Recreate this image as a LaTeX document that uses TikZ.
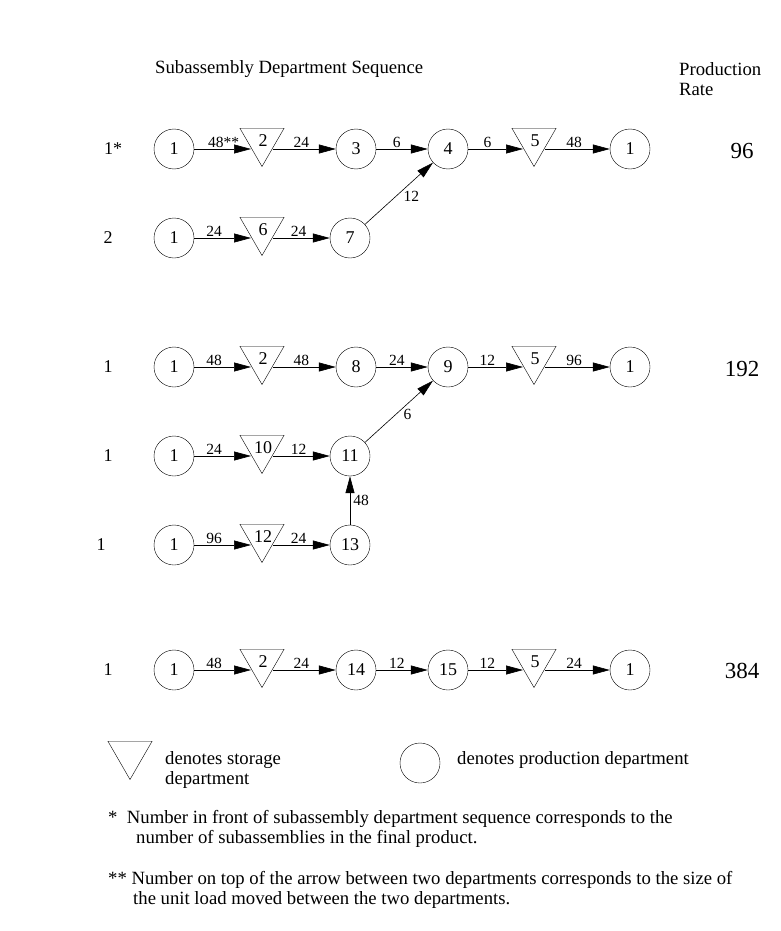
\documentclass[tikz,border=0pt]{standalone}
\usepackage{fontspec}
\setmainfont{Liberation Serif}
\usetikzlibrary{shapes.geometric,arrows.meta,calc}
\begin{document}
\begin{tikzpicture}[x=1pt,y=-1pt,
 dept/.style={circle,draw,minimum size=40pt,inner sep=0pt,font=\fontsize{18}{20}\selectfont},
 store/.style={regular polygon,regular polygon sides=3,shape border rotate=180,draw,minimum size=51pt,inner sep=0pt},
 stxt/.style={font=\fontsize{18}{20}\selectfont},
 arr/.style={-{Triangle[length=17pt,width=9pt]},line width=0.6pt},
 lab/.style={font=\fontsize{15.5}{17}\selectfont,inner sep=1pt},
 txt/.style={font=\fontsize{18.7}{20}\selectfont,anchor=west,align=left,inner sep=0pt},
 rate/.style={font=\fontsize{23}{25}\selectfont}]
\useasboundingbox (0,0) rectangle (781,931);
% header
\node[txt] (h1) at (155,69) {Subassembly Department Sequence};
\node[txt] (h2) at (679,79) {Production\\Rate};
% macros
\newcommand{\tri}[4]{\node[store] (#1) at (#2,#3-8) {}; \node[stxt] (#1t) at (#2+1,#3-8) {#4};}
\newcommand{\inarr}[4]{\draw[arr] (#1) -- ($(#2)+(-11,8)$) node[lab,pos=0.35,above] {#4};}
\newcommand{\outarr}[4]{\draw[arr] ($(#1)+(11,8)$) -- (#2) node[lab,pos=0.45,above] {#4};}
% row 1
\node[dept] (a1) at (174,149) {1};
\tri{a2}{262}{149}{2}
\node[dept] (a3) at (356,149) {3};
\node[dept] (a4) at (448,149) {4};
\tri{a5}{534}{149}{5}
\node[dept] (a6) at (630,149) {1};
\draw[arr] (a1) -- ($(a2)+(-11,8)$) node[lab,pos=0.52,above] {48**};
\outarr{a2}{a3}{}{24}
\draw[arr] (a3) -- (a4) node[lab,pos=0.4,above] {6};
\inarr{a4}{a5}{}{6}
\outarr{a5}{a6}{}{48}
% row 2
\node[dept] (b1) at (174,238) {1};
\tri{b2}{262}{238}{6}
\node[dept] (b3) at (350,238) {7};
\inarr{b1}{b2}{}{24}
\outarr{b2}{b3}{}{24}
\draw[arr] (b3) -- (a4) node[lab,pos=0.55,below right] {12};
% row 3
\node[dept] (c1) at (174,367) {1};
\tri{c2}{262}{367}{2}
\node[dept] (c3) at (356,367) {8};
\node[dept] (c4) at (448,367) {9};
\tri{c5}{534}{367}{5}
\node[dept] (c6) at (630,367) {1};
\inarr{c1}{c2}{}{48}
\outarr{c2}{c3}{}{48}
\draw[arr] (c3) -- (c4) node[lab,pos=0.4,above] {24};
\inarr{c4}{c5}{}{12}
\outarr{c5}{c6}{}{96}
% row 4
\node[dept] (d1) at (174,456) {1};
\tri{d2}{262}{456}{10}
\node[dept] (d3) at (350,456) {11};
\inarr{d1}{d2}{}{24}
\outarr{d2}{d3}{}{12}
\draw[arr] (d3) -- (c4) node[lab,pos=0.55,below right] {6};
% row 5
\node[dept] (e1) at (174,545) {1};
\tri{e2}{262}{545}{12}
\node[dept] (e3) at (350,545) {13};
\inarr{e1}{e2}{}{96}
\outarr{e2}{e3}{}{24}
\draw[arr] (e3) -- (d3) node[lab,midway,right=2pt] {48};
% row 6
\node[dept] (f1) at (174,670) {1};
\tri{f2}{262}{670}{2}
\node[dept] (f3) at (356,670) {14};
\node[dept] (f4) at (448,670) {15};
\tri{f5}{534}{670}{5}
\node[dept] (f6) at (630,670) {1};
\inarr{f1}{f2}{}{48}
\outarr{f2}{f3}{}{24}
\draw[arr] (f3) -- (f4) node[lab,pos=0.4,above] {12};
\inarr{f4}{f5}{}{12}
\outarr{f5}{f6}{}{24}
% left numbers
\node[stxt] (n1) at (113,149) {1*};
\node[stxt] (n2) at (108,238) {2};
\node[stxt] (n3) at (108,367) {1};
\node[stxt] (n4) at (108,456) {1};
\node[stxt] (n5) at (101,545) {1};
\node[stxt] (n6) at (108,670) {1};
% rates
\node[rate] (r1) at (742,151) {96};
\node[rate] (r2) at (742,369) {192};
\node[rate] (r3) at (742,671) {384};
% legend
\node[store] (lt) at (130,754) {};
\node[txt] (lt1) at (165,770) {denotes storage\\department};
\node[dept] (lc) at (420,763) {};
\node[txt] (lc1) at (457,760) {denotes production department};
\node[txt] (fn1) at (108,829) {*\ \ Number in front of subassembly department sequence corresponds to the\\\hspace*{28pt}number of subassemblies in the final product.};
\node[txt] (fn2) at (108,890) {** Number on top of the arrow between two departments corresponds to the size of\\\hspace*{25pt}the unit load moved between the two departments.};
\end{tikzpicture}
\end{document}
